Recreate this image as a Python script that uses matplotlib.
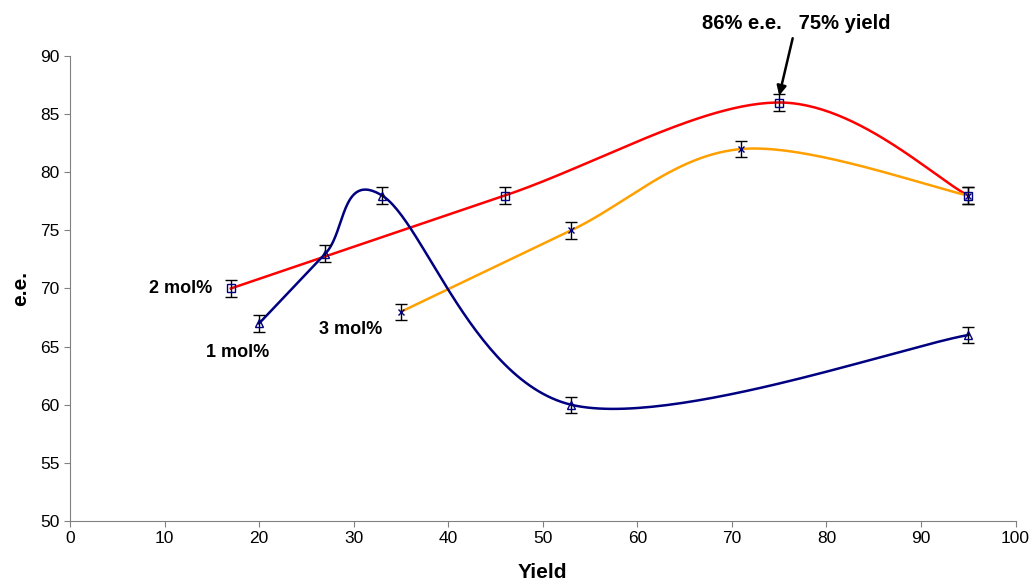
import numpy as np
import matplotlib.pyplot as plt

x_1mol = [20, 27, 33, 53, 95]
y_1mol = [67, 73, 78, 60, 66]
x_2mol = [17, 46, 75, 95]
y_2mol = [70, 78, 86, 78]
x_3mol = [35, 53, 71, 95]
y_3mol = [68, 75, 82, 78]
err = 0.7

NARROW = ["Liberation Sans Narrow", "Liberation Sans", "DejaVu Sans"]
ARIAL = ["Liberation Sans", "DejaVu Sans"]


def smooth(xs, ys, n=60):
    # Excel-style smoothed line: cubic Bezier with Catmull-Rom control points
    p = np.column_stack([xs, ys]).astype(float)
    p = np.vstack([p[0], p, p[-1]])
    out = []
    t = np.linspace(0, 1, n)[:, None]
    for i in range(1, len(p) - 2):
        p0, p1, p2, p3 = p[i - 1], p[i], p[i + 1], p[i + 2]
        c1 = p1 + (p2 - p0) / 6
        c2 = p2 - (p3 - p1) / 6
        seg = ((1 - t) ** 3) * p1 + 3 * ((1 - t) ** 2) * t * c1 + 3 * (1 - t) * t ** 2 * c2 + t ** 3 * p2
        out.append(seg)
    out = np.vstack(out)
    return out[:, 0], out[:, 1]


fig = plt.figure(figsize=(10.3, 5.81), dpi=100)
ax = fig.add_axes([0.068, 0.1033, 0.918, 0.8003])

for xs, ys, col, mk in [(x_2mol, y_2mol, "#ff0000", "s"),
                        (x_3mol, y_3mol, "#ffa000", "x"),
                        (x_1mol, y_1mol, "#000080", "^")]:
    sx, sy = smooth(xs, ys)
    ax.plot(sx, sy, color=col, linewidth=1.8, zorder=2)
    ax.errorbar(xs, ys, yerr=err, fmt="none", ecolor="black", elinewidth=1,
                capsize=4, capthick=1, zorder=3)
    ax.plot(xs, ys, linestyle="none", marker=mk, markersize=6 if mk != "x" else 5,
            markerfacecolor="none", markeredgecolor="#000080", markeredgewidth=1, zorder=4)

ax.text(15, 70, "2 mol%", ha="right", va="center", fontsize=13, fontweight="bold", family=NARROW)
ax.text(17.7, 64.5, "1 mol%", ha="center", va="center", fontsize=13, fontweight="bold", family=NARROW)
ax.text(33, 66.5, "3 mol%", ha="right", va="center", fontsize=13, fontweight="bold", family=NARROW)

ax.annotate("86% e.e.   75% yield", xy=(75, 86.6), xytext=(76.8, 92.0),
            ha="center", va="bottom", fontsize=14.5, fontweight="bold", family=NARROW,
            arrowprops=dict(arrowstyle="-|>", color="black", lw=1.8, mutation_scale=14,
                            shrinkA=2, shrinkB=0),
            annotation_clip=False)

ax.set_xlim(0, 100)
ax.set_ylim(50, 90)
ax.set_xticks(range(0, 101, 10))
ax.set_yticks(range(50, 91, 5))
for s in ["top", "right"]:
    ax.spines[s].set_visible(False)
for s in ["left", "bottom"]:
    ax.spines[s].set_color("#808080")
ax.tick_params(direction="out", length=4, color="#808080", labelsize=12.5)
for lab in ax.get_xticklabels() + ax.get_yticklabels():
    lab.set_family(ARIAL)

ax.set_xlabel("Yield", fontsize=15, fontweight="bold", family=ARIAL, labelpad=12)
ax.set_ylabel("e.e.", fontsize=15, fontweight="bold", family=ARIAL, labelpad=7)

fig.savefig("out.png", dpi=100)
